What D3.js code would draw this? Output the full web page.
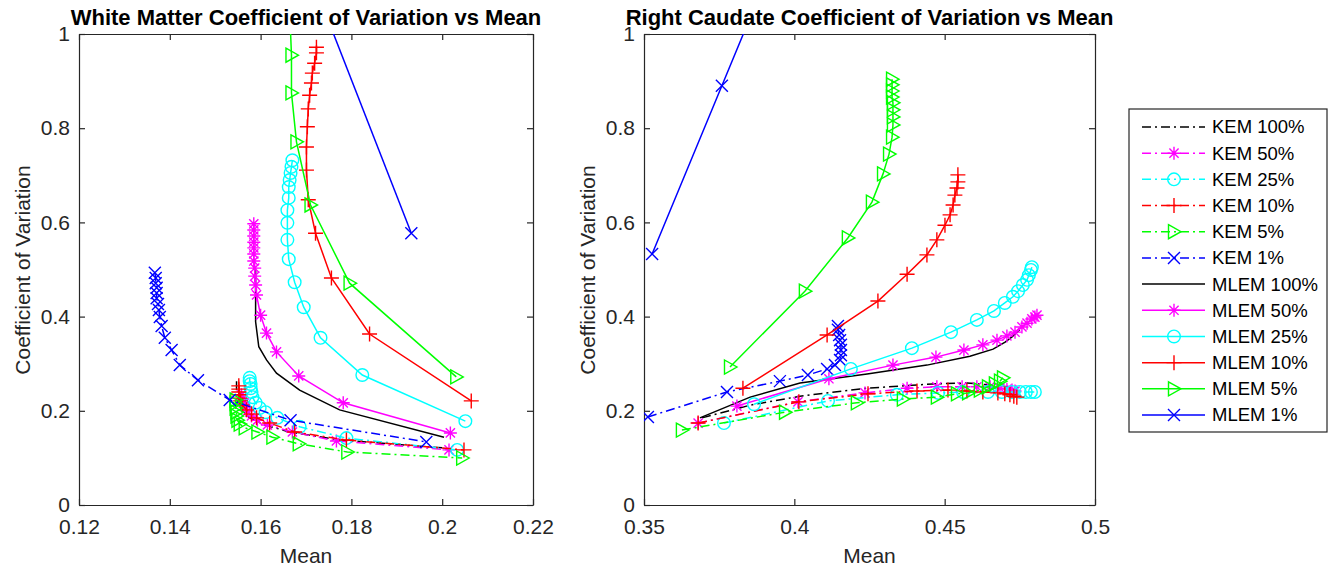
<!DOCTYPE html>
<html>
<head>
<meta charset="utf-8">
<script src="https://cdn.jsdelivr.net/npm/d3@7"></script>
<style>
    body { margin: 0; background: #fff; }
    text { font-family: "Liberation Sans", Arial, sans-serif; }
</style>
</head>
<body>
<div id="chart"></div>
<script>

// ---- data (mean, coefficient of variation) ----
const seriesNames = ["KEM 100%", "KEM 50%", "KEM 25%", "KEM 10%", "KEM 5%", "KEM 1%",
                     "MLEM 100%", "MLEM 50%", "MLEM 25%", "MLEM 10%", "MLEM 5%", "MLEM 1%"];

// white matter
const wmKem100 = [[.1547,.263],[.1547,.244],[.1549,.223],[.1558,.202],[.1576,.185],[.1609,.170],[.1664,.155],[.1774,.138],[.2004,.121]];
const wmKem50 = [[.1558,.234],[.1560,.225],[.1562,.217],[.1567,.208],[.1571,.200],[.1580,.189],[.1593,.180],[.1615,.170],[.1670,.155],[.1767,.136],[.2015,.117]];
const wmKem25 = [[.1576,.270],[.1576,.263],[.1578,.257],[.1578,.248],[.1580,.240],[.1582,.229],[.1589,.217],[.1598,.206],[.1611,.197],[.1637,.185],[.1686,.166],[.1789,.142],[.2033,.117]];
const wmKem10 = [[.1552,.253],[.1552,.246],[.1552,.240],[.1552,.234],[.1554,.227],[.1556,.221],[.1560,.212],[.1569,.202],[.1580,.193],[.1591,.185],[.1620,.174],[.1675,.155],[.1789,.138],[.2048,.117]];
const wmKem5 = [[.1545,.223],[.1545,.216],[.1545,.206],[.1547,.197],[.1547,.189],[.1549,.180],[.1554,.172],[.1565,.164],[.1593,.155],[.1626,.144],[.1684,.130],[.1791,.1125],[.2044,.0998]];
const wmKem1 = [[.1367,.493],[.1369,.482],[.1369,.471],[.1371,.461],[.1371,.450],[.1371,.439],[.1374,.427],[.1376,.414],[.1378,.399],[.1382,.380],[.1389,.355],[.1404,.329],[.1422,.297],[.1462,.265],[.1532,.223],[.1666,.180],[.1965,.134]];
const wmMlem100 = [[.1589,.499],[.1589,.450],[.1589,.389],[.1596,.336],[.1613,.308],[.1635,.280],[.1686,.244],[.1774,.202],[.2004,.144]];
const wmMlem50 = [[.1585,.597],[.1585,.584],[.1585,.571],[.1585,.558],[.1585,.546],[.1585,.533],[.1585,.518],[.1587,.503],[.1587,.486],[.1589,.467],[.1591,.446],[.1600,.403],[.1613,.365],[.1635,.325],[.1684,.274],[.1782,.217],[.2018,.153]];
const wmMlem25 = [[.1670,.732],[.1668,.718],[.1666,.705],[.1664,.690],[.1662,.675],[.1662,.652],[.1659,.626],[.1659,.599],[.1659,.563],[.1662,.522],[.1675,.473],[.1695,.420],[.1732,.355],[.1824,.276],[.2051,.178]];
const wmMlem10 = [[.1723,.972],[.1723,.960],[.1719,.938],[.1714,.917],[.1712,.896],[.1708,.870],[.1705,.841],[.1703,.803],[.1701,.760],[.1701,.711],[.1705,.648],[.1721,.577],[.1756,.482],[.1840,.363],[.2064,.221]];
const wmMlem5 = [[.1662,1.1],[.1668,.955],[.1668,.875],[.1679,.771],[.1710,.637],[.1796,.471],[.2031,.272]];
const wmMlem1 = [[.1700,1.15],[.1932,.577]];

// right caudate
const rcKem100 = [[.3693,.185],[.3853,.212],[.4019,.231],[.4242,.248],[.4461,.257],[.4574,.259],[.4684,.253],[.4750,.248]];
const rcKem50 = [[.3680,.174],[.4012,.219],[.4235,.238],[.4375,.248],[.4474,.251],[.4558,.251],[.4607,.251],[.4651,.251],[.4684,.248],[.4707,.246],[.4724,.244],[.4734,.242]];
const rcKem25 = [[.3766,.174],[.4112,.221],[.4341,.234],[.4478,.238],[.4561,.240],[.4644,.240],[.4690,.240],[.4724,.240],[.4750,.240],[.4770,.240],[.4787,.240],[.4800,.240]];
const rcKem10 = [[.3680,.174],[.4015,.219],[.4245,.236],[.4408,.242],[.4511,.244],[.4574,.242],[.4627,.240],[.4677,.238],[.4700,.236],[.4717,.234],[.4730,.231],[.4740,.229]];
const rcKem5 = [[.3626,.159],[.3969,.197],[.4208,.217],[.4361,.225],[.4474,.229],[.4541,.236],[.4578,.238],[.4617,.244],[.4644,.251],[.4667,.257],[.4684,.263],[.4694,.270]];
const rcKem1 = [[.3513,.187],[.3776,.240],[.3952,.263],[.4045,.276],[.4109,.289],[.4135,.297],[.4152,.308],[.4155,.318],[.4155,.329],[.4155,.340],[.4152,.350],[.4149,.361],[.4145,.372],[.4145,.380]];
const rcMlem100 = [[.3686,.185],[.3853,.229],[.4019,.259],[.4242,.278],[.4441,.297],[.4584,.316],[.4661,.331],[.4701,.346],[.4724,.357],[.4750,.372]];
const rcMlem50 = [[.3809,.210],[.4115,.268],[.4328,.297],[.4471,.314],[.4564,.329],[.4627,.340],[.4674,.350],[.4707,.359],[.4734,.367],[.4757,.378],[.4774,.386],[.4790,.395],[.4800,.399],[.4807,.403]];
const rcMlem25 = [[.3866,.214],[.4188,.289],[.4391,.333],[.4521,.367],[.4607,.393],[.4664,.412],[.4700,.429],[.4727,.442],[.4744,.454],[.4760,.467],[.4774,.478],[.4780,.488],[.4787,.499],[.4790,.505]];
const rcMlem10 = [[.3829,.248],[.4109,.361],[.4278,.433],[.4375,.490],[.4441,.531],[.4474,.563],[.4501,.594],[.4518,.616],[.4528,.637],[.4534,.658],[.4541,.673],[.4544,.686],[.4544,.701]];
const rcMlem5 = [[.3786,.293],[.4035,.454],[.4178,.567],[.4258,.643],[.4295,.703],[.4315,.745],[.4325,.781],[.4328,.807],[.4328,.824],[.4328,.839],[.4328,.854],[.4325,.866],[.4325,.879],[.4325,.892],[.4325,.904]];
const rcMlem1 = [[.3527,.533],[.3759,.890],[.3960,1.2]];

const xTicksWM = [0.12, 0.14, 0.16, 0.18, 0.2, 0.22];
const xTicksRC = [0.35, 0.4, 0.45, 0.5];
const yTicks = [0, 0.2, 0.4, 0.6, 0.8, 1];

// ---- styles ----
const colors = ["#000000", "#ff00ff", "#00ffff", "#ff0000", "#00ff00", "#0000ff"];
const markers = ["none", "star", "circle", "plus", "triangle", "cross"];
const axisColor = "#262626";
const dashDot = "9,4,2,4";

const svg = d3.select("#chart").append("svg")
    .attr("width", 1336)
    .attr("height", 576);

// marker shapes
function markerPath(type) {
    if (type === "star") {
        let s = 6.5, d = 4.6;
        return `M${-s},0L${s},0M0,${-s}L0,${s}M${-d},${-d}L${d},${d}M${-d},${d}L${d},${-d}`;
    }
    if (type === "plus") { let s = 7.5; return `M${-s},0L${s},0M0,${-s}L0,${s}`; }
    if (type === "cross") { let s = 6; return `M${-s},${-s}L${s},${s}M${-s},${s}L${s},${-s}`; }
    if (type === "triangle") return "M-5.5,-7L7,0L-5.5,7Z";
    return null;
}

function drawMarker(g, type, color, x, y) {
    if (type === "circle") {
        g.append("circle").attr("cx", x).attr("cy", y).attr("r", 6.3)
            .attr("fill", "none").attr("stroke", color).attr("stroke-width", 1.4);
    } else if (type !== "none") {
        g.append("path").attr("d", markerPath(type))
            .attr("transform", `translate(${x},${y})`)
            .attr("fill", "none").attr("stroke", color).attr("stroke-width", 1.4);
    }
}

function drawPlot(cfg) {
    let x = d3.scaleLinear().domain(cfg.xDomain).range([cfg.left, cfg.right]);
    let y = d3.scaleLinear().domain([0, 1]).range([505, 34]);

    let g = svg.append("g");

    g.append("clipPath").attr("id", cfg.id + "clip")
        .append("rect")
        .attr("x", cfg.left).attr("y", 34)
        .attr("width", cfg.right - cfg.left).attr("height", 471);

    // axes with inside ticks
    g.append("g").attr("transform", "translate(0,505)")
        .call(d3.axisBottom(x).tickValues(cfg.xTicks).tickFormat(d3.format("~g")).tickSizeInner(-6).tickSizeOuter(0).tickPadding(14));
    g.append("g").attr("transform", "translate(0,34)")
        .call(d3.axisTop(x).tickValues(cfg.xTicks).tickFormat("").tickSizeInner(-6).tickSizeOuter(0));
    g.append("g").attr("transform", `translate(${cfg.left},0)`)
        .call(d3.axisLeft(y).tickValues(yTicks).tickFormat(d3.format("~g")).tickSizeInner(-6).tickSizeOuter(0).tickPadding(9));
    g.append("g").attr("transform", `translate(${cfg.right},0)`)
        .call(d3.axisRight(y).tickValues(yTicks).tickFormat("").tickSizeInner(-6).tickSizeOuter(0));

    g.selectAll(".domain, .tick line").attr("stroke", axisColor).attr("stroke-width", 1.2);
    g.selectAll(".tick text").attr("fill", axisColor).style("font-size", "21px");

    // series
    let plotArea = g.append("g").attr("clip-path", `url(#${cfg.id}clip)`);
    let line = d3.line().x(d => x(d[0])).y(d => y(d[1]));

    cfg.data.forEach((pts, i) => {
        let color = colors[i % 6];
        let marker = markers[i % 6];
        let kem = i < 6;
        plotArea.append("path")
            .datum(pts)
            .attr("d", line)
            .attr("fill", "none")
            .attr("stroke", color)
            .attr("stroke-width", 1.5)
            .attr("stroke-dasharray", kem ? dashDot : null);
        pts.forEach(p => drawMarker(plotArea, marker, color, x(p[0]), y(p[1])));
    });

    // title and labels
    let cx = (cfg.left + cfg.right) / 2;
    g.append("text").attr("x", cx).attr("y", 25)
        .attr("text-anchor", "middle")
        .style("font-size", "22px").style("font-weight", "bold")
        .text(cfg.title);
    g.append("text").attr("x", cx).attr("y", 563)
        .attr("text-anchor", "middle").attr("fill", axisColor)
        .style("font-size", "21px")
        .text("Mean");
    g.append("text")
        .attr("transform", `translate(${cfg.left - 49},270) rotate(-90)`)
        .attr("text-anchor", "middle").attr("fill", axisColor)
        .style("font-size", "21px")
        .text("Coefficient of Variation");
}

drawPlot({
    id: "wm", left: 79, right: 533, xDomain: [0.12, 0.22], xTicks: xTicksWM,
    title: "White Matter Coefficient of Variation vs Mean",
    data: [wmKem100, wmKem50, wmKem25, wmKem10, wmKem5, wmKem1,
           wmMlem100, wmMlem50, wmMlem25, wmMlem10, wmMlem5, wmMlem1]
});

drawPlot({
    id: "rc", left: 644, right: 1095, xDomain: [0.35, 0.5], xTicks: xTicksRC,
    title: "Right Caudate Coefficient of Variation vs Mean",
    data: [rcKem100, rcKem50, rcKem25, rcKem10, rcKem5, rcKem1,
           rcMlem100, rcMlem50, rcMlem25, rcMlem10, rcMlem5, rcMlem1]
});

// legend
let legend = svg.append("g");
legend.append("rect")
    .attr("x", 1129).attr("y", 109).attr("width", 198).attr("height", 323)
    .attr("fill", "#fff").attr("stroke", axisColor).attr("stroke-width", 1.2);

let rowY = d3.scalePoint().domain(seriesNames).range([127, 415]);
seriesNames.forEach((name, i) => {
    let yy = rowY(name);
    let color = colors[i % 6];
    legend.append("line")
        .attr("x1", 1142).attr("x2", 1205).attr("y1", yy).attr("y2", yy)
        .attr("stroke", color).attr("stroke-width", 1.5)
        .attr("stroke-dasharray", i < 6 ? dashDot : null);
    drawMarker(legend, markers[i % 6], color, 1174, yy);
    legend.append("text")
        .attr("x", 1212).attr("y", yy).attr("dy", "0.35em")
        .style("font-size", "18.5px")
        .text(name);
});

</script>
</body>
</html>
